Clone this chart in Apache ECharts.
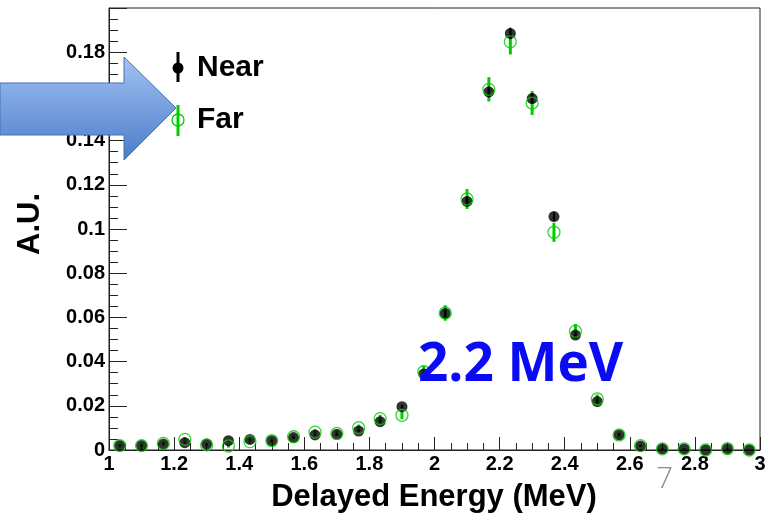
<!DOCTYPE html>
<html>
<head>
<meta charset="utf-8">
<script src="https://cdn.jsdelivr.net/npm/echarts@6/dist/echarts.min.js"></script>
<style>
  html, body { margin: 0; padding: 0; background: #fff; }
  #chart { width: 769px; height: 521px; }
</style>
</head>
<body>
<div id="chart"></div>
<script>
  // bin centres (MeV), 30 bins between 1 and 3
  var energy = [1.033, 1.1, 1.167, 1.233, 1.3, 1.367, 1.433, 1.5, 1.567, 1.633,
                1.7, 1.767, 1.833, 1.9, 1.967, 2.033, 2.1, 2.167, 2.233, 2.3,
                2.367, 2.433, 2.5, 2.567, 2.633, 2.7, 2.767, 2.833, 2.9, 2.967];
  var nearVal = [0.002, 0.002, 0.0027, 0.0033, 0.0027, 0.0042, 0.0048, 0.0042, 0.0056, 0.0068,
                 0.0071, 0.0086, 0.0128, 0.0196, 0.0344, 0.0618, 0.1125, 0.162, 0.1885, 0.159,
                 0.1056, 0.052, 0.0219, 0.0068, 0.0018, 0.0005, 0.0005, 0.0, 0.0006, 0.0];
  var nearErr = [0.0003, 0.0003, 0.0003, 0.0004, 0.0003, 0.0004, 0.0004, 0.0004, 0.0004, 0.0005,
                 0.0005, 0.0005, 0.0007, 0.0008, 0.0012, 0.0016, 0.002, 0.0024, 0.0026, 0.0024,
                 0.002, 0.0014, 0.0009, 0.0005, 0.0003, 0.0002, 0.0002, 0.0001, 0.0002, 0.0001];
  var farVal = [0.002, 0.002, 0.003, 0.0048, 0.0023, 0.0018, 0.0038, 0.0042, 0.006, 0.0081,
                0.0075, 0.0101, 0.0142, 0.0157, 0.0354, 0.062, 0.1136, 0.1632, 0.1847, 0.157,
                0.0985, 0.0538, 0.0231, 0.0068, 0.002, 0.0005, 0.0005, 0.0, 0.0006, 0.0];
  var farErr = [0.0008, 0.0008, 0.0009, 0.001, 0.0008, 0.0007, 0.0009, 0.0009, 0.001, 0.0013,
                0.0012, 0.0014, 0.0017, 0.0018, 0.0027, 0.0035, 0.0045, 0.0055, 0.0057, 0.0054,
                0.0043, 0.0032, 0.002, 0.0011, 0.0006, 0.0004, 0.0004, 0.0003, 0.0004, 0.0003];

  var FONT = 'Liberation Sans';
  var GREEN = '#00cc00';

  function pts(vals) {
    return energy.map(function (e, i) { return [e, vals[i]]; });
  }
  function errData(vals, errs) {
    return energy.map(function (e, i) { return [e, vals[i] - errs[i], vals[i] + errs[i]]; });
  }
  function errBar(color, width) {
    return function (params, api) {
      var lo = api.coord([api.value(0), api.value(1)]);
      var hi = api.coord([api.value(0), api.value(2)]);
      return {
        type: 'line',
        shape: { x1: lo[0], y1: lo[1], x2: hi[0], y2: hi[1] },
        style: { stroke: color, lineWidth: width }
      };
    };
  }

  var myChart = echarts.init(document.getElementById('chart'));
  var option = {
    animation: false,
    grid: {
      left: 109, right: 9, top: 8, bottom: 71,
      show: true, borderColor: '#222', borderWidth: 1
    },
    xAxis: {
      type: 'value', min: 1, max: 3, interval: 0.2,
      axisLine: { lineStyle: { color: '#222', width: 1 } },
      axisTick: { inside: true, length: 13, lineStyle: { color: '#222' } },
      minorTick: { show: true, splitNumber: 4, length: 7, lineStyle: { color: '#222' } },
      splitLine: { show: false },
      axisLabel: { color: '#000', fontFamily: FONT, fontWeight: 'bold', fontSize: 20, margin: 4,
        formatter: function (v) { return +v.toFixed(1); } }
    },
    yAxis: {
      type: 'value', min: 0, max: 0.2, interval: 0.02,
      axisLine: { lineStyle: { color: '#222', width: 1 } },
      axisTick: { inside: true, length: 18, lineStyle: { color: '#222' } },
      minorTick: { show: true, splitNumber: 4, length: 9, lineStyle: { color: '#222' } },
      splitLine: { show: false },
      axisLabel: { color: '#000', fontFamily: FONT, fontWeight: 'bold', fontSize: 20, margin: 4,
        formatter: function (v) { return v > 0.199 ? '' : String(+v.toFixed(2)); } }
    },
    series: [
      { type: 'custom', name: 'FarErr', data: errData(farVal, farErr),
        renderItem: errBar(GREEN, 3), encode: { x: 0, y: [1, 2] }, z: 2 },
      { type: 'custom', name: 'NearErr', data: errData(nearVal, nearErr),
        renderItem: errBar('#000', 2), encode: { x: 0, y: [1, 2] }, z: 3 },
      { type: 'scatter', name: 'Near', data: pts(nearVal), symbol: 'circle', symbolSize: 11,
        itemStyle: { color: '#000' }, z: 4 },
      { type: 'scatter', name: 'Far', data: pts(farVal), symbol: 'circle', symbolSize: 12,
        itemStyle: { color: 'rgba(0,0,0,0)', borderColor: GREEN, borderWidth: 1.3 }, z: 5 }
    ],
    graphic: [
      // axis titles
      { type: 'text', x: 434, y: 497, z: 10,
        style: { text: 'Delayed Energy (MeV)', fill: '#000', font: 'bold 31px "Liberation Sans"',
          align: 'center', verticalAlign: 'middle' } },
      { type: 'text', x: 30, y: 224, rotation: Math.PI / 2, z: 10,
        style: { text: 'A.U.', fill: '#000', font: 'bold 31px "Liberation Sans"',
          align: 'center', verticalAlign: 'middle' } },
      // legend
      { type: 'line', z: 10, shape: { x1: 178, y1: 52, x2: 178, y2: 82 },
        style: { stroke: '#000', lineWidth: 3 } },
      { type: 'circle', z: 10, shape: { cx: 178, cy: 68, r: 5.5 }, style: { fill: '#000' } },
      { type: 'text', x: 197, y: 68, z: 10,
        style: { text: 'Near', fill: '#000', font: 'bold 30px "Liberation Sans"', verticalAlign: 'middle' } },
      { type: 'line', z: 10, shape: { x1: 178, y1: 105, x2: 178, y2: 136 },
        style: { stroke: GREEN, lineWidth: 3 } },
      { type: 'circle', z: 10, shape: { cx: 178, cy: 120, r: 6 },
        style: { fill: 'rgba(0,0,0,0)', stroke: GREEN, lineWidth: 1.3 } },
      { type: 'text', x: 197, y: 120, z: 10,
        style: { text: 'Far', fill: '#000', font: 'bold 30px "Liberation Sans"', verticalAlign: 'middle' } },
      // blue arrow
      { type: 'polygon', z: 20,
        shape: { points: [[0, 83], [124, 83], [124, 57], [176, 108], [124, 160], [124, 135], [0, 135]] },
        style: {
          fill: new echarts.graphic.LinearGradient(0, 0, 0, 1, [
            { offset: 0, color: '#a3c2f2' },
            { offset: 1, color: '#4a7ccb' }
          ]),
          stroke: '#4572b8', lineWidth: 1
        } },
      // annotation
      { type: 'text', x: 418, y: 392, z: 20,
        style: { text: '2.2 MeV', fill: '#0a0af5', font: 'bold 53px "Open Sans"', verticalAlign: 'bottom' } },
      { type: 'text', x: 656, y: 479, z: 20,
        style: { text: '7', fill: '#8c8c8c', font: '300 30px "Open Sans"', verticalAlign: 'middle' } }
    ]
  };
  myChart.setOption(option);
</script>
</body>
</html>
